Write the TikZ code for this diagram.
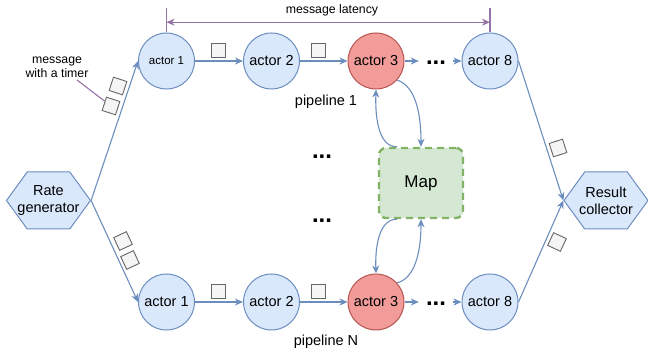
\documentclass[tikz,border=0pt]{standalone}
\usepackage{fontspec}
\setmainfont{Liberation Sans}
\usetikzlibrary{arrows.meta,shapes.symbols,calc}
\definecolor{ActFill}{HTML}{DAE8FC}
\definecolor{ActLine}{HTML}{6C8EBF}
\definecolor{HotFill}{HTML}{F19C99}
\definecolor{HotLine}{HTML}{B85450}
\definecolor{MapFill}{HTML}{D5E8D4}
\definecolor{MapLine}{HTML}{82B366}
\definecolor{MsgFill}{HTML}{F5F5F5}
\definecolor{MsgLine}{HTML}{666666}
\definecolor{Lat}{HTML}{9673A6}
\tikzset{
  >={Stealth[length=8pt,width=7pt,inset=2.5pt]},
  actor/.style={circle,draw=ActLine,line width=1pt,fill=ActFill,minimum size=56pt,inner sep=0pt,font=\fontsize{14.5}{17}\selectfont},
  hot/.style={actor,draw=HotLine,fill=HotFill},
  hexa/.style={signal,signal to=west and east,signal pointer angle=108,draw=ActLine,line width=1pt,fill=ActFill,minimum width=84pt,minimum height=57pt,inner ysep=0pt,inner xsep=-10pt,align=center,font=\fontsize{14.5}{17}\selectfont},
  msg/.style={rectangle,draw=MsgLine,line width=.9pt,fill=MsgFill,minimum size=14pt,inner sep=0pt},
  flow/.style={->,draw=ActLine,line width=1.1pt},
  lat/.style={draw=Lat,line width=1.1pt},
  mapbox/.style={rectangle,rounded corners=7pt,draw=MapLine,fill=MapFill,dash pattern=on 7pt off 5pt,line width=2.4pt,minimum width=84pt,minimum height=70pt,font=\fontsize{17}{20}\selectfont},
  dots/.style={font=\bfseries\fontsize{24}{26}\selectfont,text height=8pt,text depth=0pt,inner ysep=2pt,inner xsep=7pt},
  lab/.style={font=\fontsize{14.5}{17}\selectfont},
  note/.style={font=\fontsize{12.3}{14}\selectfont,align=center,inner sep=0pt}
}
\begin{document}
\begin{tikzpicture}[x=1pt,y=-1pt]
  \useasboundingbox (0,0) rectangle (648,352);
  \node[hexa] (rg) at (48.5,200.5) {Rate\\generator};
  \node[hexa] (rc) at (606,200.5) {Result\\collector};

  \node[actor,font=\fontsize{11.5}{14}\selectfont] (u1) at (166.5,61) {actor 1};
  \node[actor] (u2) at (271.5,61) {actor 2};
  \node[hot] (u3) at (376,61) {actor 3};
  \node[dots] (ud) at (436,61) {...};
  \node[actor] (u8) at (490,61) {actor 8};
  \node[lab] (p1) at (326,102) {pipeline 1};

  \node[actor] (d1) at (166.5,302) {actor 1};
  \node[actor] (d2) at (271.5,302) {actor 2};
  \node[hot] (d3) at (376,302) {actor 3};
  \node[dots] (dd) at (436,302) {...};
  \node[actor] (d8) at (490,302) {actor 8};
  \node[lab] (pn) at (326,342) {pipeline N};

  \node[mapbox] (map) at (421,183) {Map};
  \node[dots] (m1) at (322,155) {...};
  \node[dots] (m2) at (322,219) {...};

  \node[msg,rotate=-18] (ma) at (118,86) {};
  \node[msg,rotate=-18] (mb) at (111,106) {};
  \node[msg,rotate=25] (mc) at (123,241) {};
  \node[msg,rotate=25] (md) at (130,260) {};
  \node[msg] (me) at (218.5,50.5) {};
  \node[msg] (mf) at (318,50.5) {};
  \node[msg] (mg) at (218.5,291.5) {};
  \node[msg] (mh) at (318,291.5) {};
  \node[msg,rotate=18] (mi) at (558,148) {};
  \node[msg,rotate=-25] (mj) at (557,242) {};

  \draw[flow] (rg.east) -- (u1.west);
  \draw[flow] (rg.east) -- (d1.west);
  \draw[flow] (u1) -- (u2);
  \draw[flow] (u2) -- (u3);
  \draw[flow] (u3) -- (ud);
  \draw[flow] (ud) -- (u8);
  \draw[flow] (d1) -- (d2);
  \draw[flow] (d2) -- (d3);
  \draw[flow] (d3) -- (dd);
  \draw[flow] (dd) -- (d8);
  \draw[flow] (u8.east) -- (rc.west);
  \draw[flow] (d8.east) -- (rc.west);

  \draw[flow] (u3.-42) .. controls (415,86) and (421,112) .. (map.north);
  \draw[flow] ($(map.north)+(-24,0)$) .. controls (380,147) and (375,122) .. (u3.south);
  \draw[flow] ($(map.south)+(-24,0)$) .. controls (380,219) and (375,244) .. (d3.north);
  \draw[flow] (d3.42) .. controls (415,278) and (421,252) .. (map.south);

  \coordinate (la) at (166.5,8);
  \coordinate (lb) at (490,8);
  \draw[lat] (u1.north) -- (la);
  \draw[lat] (u8.north) -- (lb);
  \draw[lat,<->] ($(u1.north)!.42!(la)$) -- ($(u8.north)!.42!(lb)$);
  \node[note] (lt) at (332,10) {message latency};

  \node[note] (nt) at (57,67) {message\\with a timer};
  \coordinate (tip) at (77,80);
  \draw[lat] (tip) -- (mb);
\end{tikzpicture}
\end{document}
